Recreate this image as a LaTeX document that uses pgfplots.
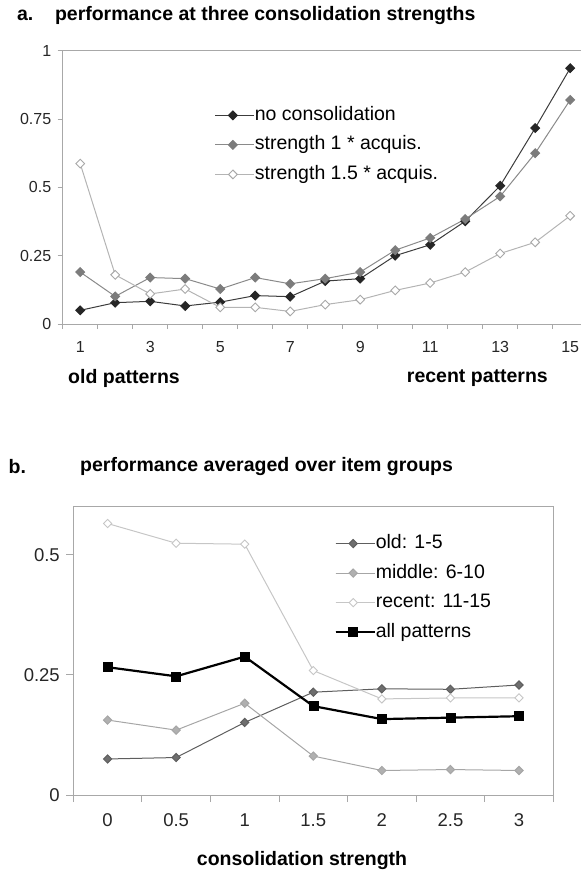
\documentclass[border=0pt]{standalone}
\usepackage{pgfplots}
\pgfplotsset{compat=1.18}
\usepackage{fontspec}
\setmainfont{Liberation Sans}
\definecolor{axgray}{HTML}{A8A8A8}
\definecolor{cA}{HTML}{262626}
\definecolor{cAl}{HTML}{3C3C3C}
\definecolor{cB}{HTML}{7C7C7C}
\definecolor{cBl}{HTML}{8A8A8A}
\definecolor{cC}{HTML}{A8A8A8}
\definecolor{cCl}{HTML}{B4B4B4}
\definecolor{bOld}{HTML}{6E6E6E}
\definecolor{bOldl}{HTML}{5E5E5E}
\definecolor{bMid}{HTML}{B0B0B0}
\definecolor{bMidl}{HTML}{A6A6A6}
\definecolor{bRec}{HTML}{C6C6C6}
\newcommand{\bigf}{\fontsize{19.5}{23}\selectfont}
\pgfplotsset{
  myleg/.style={
    legend cell align=left,
    legend image code/.code={\path (0pt,0pt) -- (39pt,0pt);\draw[mark repeat=2,mark phase=2,##1] plot coordinates {(0pt,0pt)(17.5pt,0pt)(35pt,0pt)};},
    legend style={draw=none, fill=none, inner sep=0pt, row sep=11.5pt,
      font=\bigf, nodes={inner sep=0pt, text height=14pt, text depth=4pt, anchor=west}},
  },
}
\begin{document}
\begin{tikzpicture}[x=1pt,y=1pt]
\useasboundingbox (0,0) rectangle (581,-871);
% ---------- titles and extra text
\node[anchor=west, inner sep=0pt, font=\bigf\bfseries] at (16.8,-15) {a.};
\node[anchor=west, inner sep=0pt, font=\bigf\bfseries] at (54.8,-15) {performance at three consolidation strengths};
\node[anchor=west, inner sep=0pt, font=\bigf\bfseries] at (68,-378) {old patterns};
\node[anchor=east, inner sep=0pt, font=\bigf\bfseries] at (548,-378) {recent patterns};
\node[anchor=west, inner sep=0pt, font=\bigf\bfseries] at (8.4,-466.7) {b.};
\node[anchor=west, inner sep=0pt, font=\bigf\bfseries] at (80,-466.7) {performance averaged over item groups};
\node[anchor=center, inner sep=0pt, font=\bigf\bfseries] at (302,-860) {consolidation strength};
% ---------- chart a
\begin{axis}[
  at={(62.7pt,-324pt)}, anchor=south west, scale only axis,
  width=525pt, height=273.3pt,
  xmin=0.5, xmax=15.5, ymin=0, ymax=1,
  axis line style={draw=axgray, line width=1pt},
  tick pos=left, tick align=outside,
  xtick={1,3,...,15}, minor xtick={0.5,1.5,...,15.5},
  ytick={0,0.25,0.5,0.75,1}, yticklabels={0,0.25,0.5,0.75,1},
  major tick length=5pt, minor tick length=5pt,
  major x tick style={draw=none},
  every tick/.style={draw=axgray, line width=1pt},
  /pgf/number format/assume math mode=true,
  tick label style={font=\fontsize{16}{19}\selectfont, text=black!85},
  xticklabel style={yshift=-9pt},
  yticklabel style={xshift=-3pt},
  myleg,
  legend style={at={(0.2895,0.797)}, anchor=north west},
]
\addplot[color=cAl, line width=1pt, mark=square*, mark size=3.1pt, mark options={rotate=45, solid, fill=cA, draw=cA}] coordinates {
(1,0.050)(2,0.078)(3,0.083)(4,0.066)(5,0.080)(6,0.104)(7,0.100)(8,0.157)
(9,0.166)(10,0.250)(11,0.290)(12,0.376)(13,0.506)(14,0.717)(15,0.936)};
\addlegendentry{no consolidation}
\addplot[color=cBl, line width=1pt, mark=square*, mark size=3.1pt, mark options={rotate=45, solid, fill=cB, draw=cB}] coordinates {
(1,0.190)(2,0.101)(3,0.170)(4,0.166)(5,0.128)(6,0.170)(7,0.147)(8,0.166)
(9,0.190)(10,0.270)(11,0.315)(12,0.384)(13,0.467)(14,0.625)(15,0.820)};
\addlegendentry{strength 1 * acquis.}
\addplot[color=cCl, line width=1pt, mark=square*, mark size=3.1pt, mark options={rotate=45, solid, fill=white, draw=cC, line width=0.9pt}] coordinates {
(1,0.587)(2,0.180)(3,0.110)(4,0.128)(5,0.061)(6,0.061)(7,0.046)(8,0.071)
(9,0.089)(10,0.123)(11,0.150)(12,0.190)(13,0.258)(14,0.299)(15,0.396)};
\addlegendentry{strength 1.5 * acquis.}
\end{axis}
% ---------- chart b
\begin{axis}[
  at={(73.3pt,-795pt)}, anchor=south west, scale only axis,
  width=480pt, height=288.3pt,
  xmin=-0.25, xmax=3.25, ymin=0, ymax=0.6,
  axis line style={draw=axgray, line width=1pt},
  tick pos=left, tick align=outside,
  xtick={0,0.5,1,1.5,2,2.5,3}, xticklabels={0,0.5,1,1.5,2,2.5,3},
  minor xtick={-0.25,0.25,0.75,1.25,1.75,2.25,2.75,3.25},
  ytick={0,0.25,0.5}, yticklabels={0,0.25,0.5},
  major tick length=7pt, minor tick length=7pt,
  major x tick style={draw=none},
  every tick/.style={draw=axgray, line width=1pt},
  /pgf/number format/assume math mode=true,
  tick label style={font=\fontsize{18.5}{22}\selectfont, text=black!85},
  xticklabel style={yshift=-8pt},
  yticklabel style={xshift=-3pt},
  myleg,
  legend style={at={(0.544,0.904)}, anchor=north west},
]
\addplot[color=bOldl, line width=1pt, mark=square*, mark size=2.9pt, mark options={rotate=45, solid, fill=bOld, draw=bOldl}] coordinates {
(0,0.075)(0.5,0.078)(1,0.151)(1.5,0.214)(2,0.221)(2.5,0.220)(3,0.229)};
\addlegendentry{old: 1-5}
\addplot[color=bMidl, line width=1pt, mark=square*, mark size=2.9pt, mark options={rotate=45, solid, fill=bMid, draw=bMidl}] coordinates {
(0,0.156)(0.5,0.135)(1,0.191)(1.5,0.081)(2,0.051)(2.5,0.053)(3,0.051)};
\addlegendentry{middle: 6-10}
\addplot[color=bRec, line width=1pt, mark=square*, mark size=2.9pt, mark options={rotate=45, solid, fill=white, draw=bRec, line width=0.9pt}] coordinates {
(0,0.565)(0.5,0.524)(1,0.522)(1.5,0.259)(2,0.200)(2.5,0.202)(3,0.202)};
\addlegendentry{recent: 11-15}
\addplot[color=black, line width=2.2pt, mark=square*, mark size=4.5pt, mark options={solid, fill=black, draw=black, line width=0.5pt}] coordinates {
(0,0.266)(0.5,0.247)(1,0.288)(1.5,0.185)(2,0.158)(2.5,0.161)(3,0.164)};
\addlegendentry{all patterns}
\end{axis}
\end{tikzpicture}
\end{document}
